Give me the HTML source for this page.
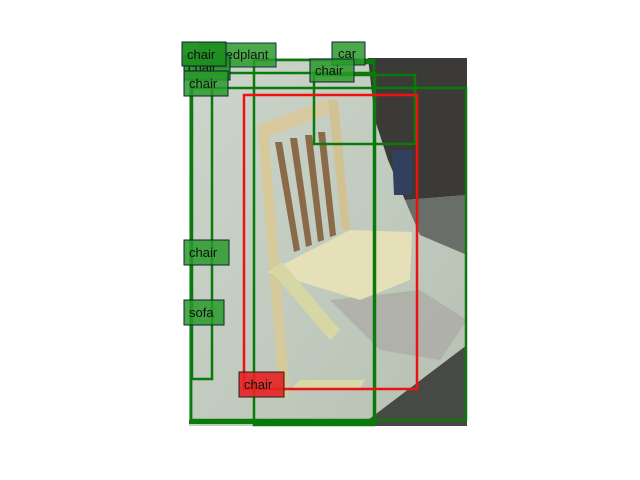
<!DOCTYPE html>
<html><head><meta charset="utf-8"><style>
html,body{margin:0;padding:0;background:#fff;}
svg{display:block;font-family:"Liberation Sans","DejaVu Sans",sans-serif;}
</style></head><body>
<svg width="640" height="480" viewBox="0 0 640 480">
<defs><clipPath id="cp"><rect x="189" y="58" width="278" height="368"/></clipPath>
<linearGradient id="bg" x1="0" y1="0" x2="1" y2="1"><stop offset="0" stop-color="#cdd5cc"/><stop offset="1" stop-color="#b6c1b2"/></linearGradient></defs>
<g clip-path="url(#cp)">
<rect x="189" y="58" width="278" height="368" fill="url(#bg)"/>
<path d="M368 58 L467 58 L467 195 L405 200 L388 160 L375 120 Z" fill="#3b3a36"/>
<path d="M392 150 L412 150 L412 195 L394 195 Z" fill="#324060"/>
<path d="M405 200 L467 195 L467 255 L420 235 Z" fill="#6a6e68"/>
<path d="M360 426 L467 345 L467 426 Z" fill="#474a44"/>
<path d="M330 300 L420 290 L467 320 L440 360 L380 350 Z" fill="#a7a3a0" opacity="0.6"/>
<path d="M258 125 L330 98 L338 110 L262 140 Z" fill="#d9c9a0"/>
<path d="M258 130 L268 130 L290 395 L280 400 Z" fill="#d7c99a"/>
<path d="M328 100 L338 100 L350 230 L342 230 Z" fill="#d2c192"/>
<path d="M275 142 L282 142 L300 250 L294 252 Z" fill="#8a6a48"/>
<path d="M290 138 L297 138 L312 245 L306 247 Z" fill="#8a6a48"/>
<path d="M305 135 L312 135 L324 240 L318 242 Z" fill="#8a6a48"/>
<path d="M318 132 L325 132 L336 235 L330 237 Z" fill="#8a6a48"/>
<path d="M268 272 L350 230 L412 232 L410 280 L360 300 Z" fill="#e5e0b8"/>
<path d="M290 390 L300 380 L365 380 L360 388 Z" fill="#d8d9a8"/>
<path d="M270 270 L282 262 L340 330 L330 340 Z" fill="#d6d7a5"/>
</g>
<g fill="none" stroke-width="2.5">
<rect x="191" y="88" width="275" height="332" stroke="#0a7a0a"/>
<rect x="191" y="73" width="184" height="348" stroke="#0a7a0a"/>
<rect x="192" y="80" width="20" height="299" stroke="#0a7a0a"/>
<rect x="254" y="60" width="120" height="365" stroke="#0a7a0a"/>
<rect x="314" y="75" width="101" height="69" stroke="#0a7a0a"/>
<rect x="355" y="61" width="18" height="2" stroke="#0a7a0a"/>
<line x1="189" y1="422" x2="376" y2="422" stroke="#0a7a0a" stroke-width="4"/>
<rect x="244" y="95" width="173" height="294" stroke="#ee1111"/>
</g>
<g font-size="13" fill="#111">
<g><rect x="200" y="43" width="76" height="24" fill="#2a9a2a" fill-opacity="0.85" stroke="#134" stroke-width="1"/><text x="204" y="59">pottedplant</text></g>
<g><rect x="184" y="55" width="46" height="25" fill="#1f8f1f" fill-opacity="0.9" stroke="#123" stroke-width="1"/><text x="188" y="72">chair</text></g>
<g><rect x="182" y="42" width="44" height="24" fill="#1f8f1f" fill-opacity="0.95" stroke="#123" stroke-width="1"/><text x="187" y="59">chair</text></g>
<g><rect x="332" y="42" width="33" height="23" fill="#2a9a2a" fill-opacity="0.85" stroke="#123" stroke-width="1"/><text x="338" y="58">car</text></g>
<g><rect x="310" y="59" width="44" height="23" fill="#2a9a2a" fill-opacity="0.85" stroke="#123" stroke-width="1"/><text x="315" y="75">chair</text></g>
<g><rect x="184" y="71" width="44" height="25" fill="#2a9a2a" fill-opacity="0.85" stroke="#123" stroke-width="1"/><text x="189" y="88">chair</text></g>
<g><rect x="184" y="240" width="45" height="25" fill="#2a9a2a" fill-opacity="0.85" stroke="#123" stroke-width="1"/><text x="189" y="257">chair</text></g>
<g><rect x="184" y="300" width="40" height="25" fill="#2a9a2a" fill-opacity="0.85" stroke="#123" stroke-width="1"/><text x="189" y="317">sofa</text></g>
<g><rect x="239" y="372" width="45" height="25" fill="#e52222" fill-opacity="0.9" stroke="#222" stroke-width="1"/><text x="244" y="389">chair</text></g>
</g>
</svg>
</body></html>
